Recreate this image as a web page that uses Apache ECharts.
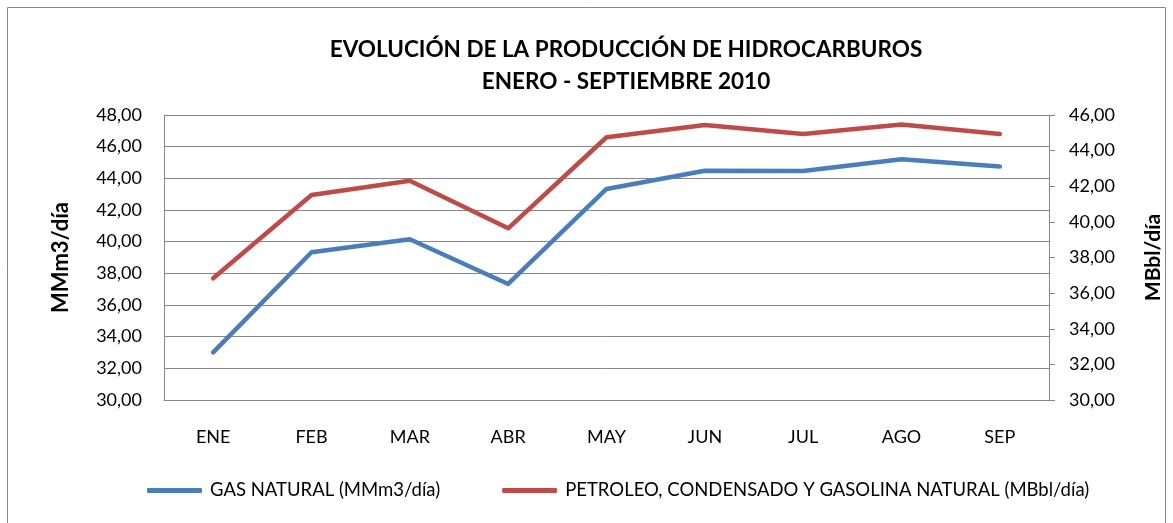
<!DOCTYPE html>
<html>
<head>
<meta charset="utf-8">
<script src="https://cdn.jsdelivr.net/npm/echarts@6/dist/echarts.min.js"></script>
<style>
  html, body { margin: 0; padding: 0; background: #fff; }
  #chart { width: 1173px; height: 523px; }
</style>
</head>
<body>
<div id="chart"></div>
<script>
// meses
const categories = ['ENE', 'FEB', 'MAR', 'ABR', 'MAY', 'JUN', 'JUL', 'AGO', 'SEP'];
// MMm3/día (eje izquierdo)
const gasNatural = [33.01, 39.33, 40.15, 37.33, 43.33, 44.48, 44.46, 45.21, 44.74];
// MBbl/día (eje derecho)
const petroleo = [36.83, 41.51, 42.31, 39.64, 44.75, 45.44, 44.93, 45.47, 44.93];

const gasName = 'GAS NATURAL (MMm3/día)';
const petName = 'PETROLEO, CONDENSADO Y GASOLINA NATURAL (MBbl/día)';

const fontFam = 'Lato, "Open Sans", sans-serif';
const gridColor = '#878787';

const chart = echarts.init(document.getElementById('chart'), null, { renderer: 'canvas' });

const fmt = v => v.toFixed(2).replace('.', ',');

let option = {
  animation: false,
  textStyle: { fontFamily: fontFam },
  title: {
    text: 'EVOLUCIÓN DE LA PRODUCCIÓN DE HIDROCARBUROS\nENERO - SEPTIEMBRE 2010',
    left: 621,
    top: 29,
    textAlign: 'center',
    textStyle: {
      fontFamily: fontFam,
      fontSize: 22.5,
      fontWeight: 'bold',
      color: '#000',
      lineHeight: 32
    }
  },
  graphic: [
    {
      type: 'rect',
      shape: { x: 7.5, y: 7.5, width: 1158, height: 530 },
      style: { fill: 'none', stroke: gridColor, lineWidth: 1 },
      silent: true
    }
  ],
  legend: {
    left: 142,
    top: 476,
    itemGap: 62,
    itemWidth: 55,
    itemHeight: 5,
    textStyle: { fontSize: 18.5, color: '#000', fontFamily: fontFam, padding: [0, 0, 0, 3] },
    data: [
      { name: gasName, icon: 'roundRect' },
      { name: petName, icon: 'roundRect' }
    ]
  },
  grid: {
    left: 164,
    right: 124,
    top: 115,
    bottom: 123
  },
  xAxis: {
    type: 'category',
    data: categories,
    boundaryGap: true,
    axisLine: { show: true, lineStyle: { color: gridColor, width: 1 } },
    axisTick: { show: false },
    axisLabel: { color: '#000', fontSize: 18, margin: 28 },
    splitLine: { show: false }
  },
  yAxis: [
    {
      type: 'value',
      name: 'MMm3/día',
      nameLocation: 'middle',
      nameGap: 92,
      nameRotate: 90,
      nameTextStyle: { fontSize: 22, fontWeight: 'bold', color: '#000' },
      min: 30,
      max: 48,
      interval: 2,
      axisLine: { show: true, lineStyle: { color: gridColor, width: 1 } },
      axisTick: { show: false },
      axisLabel: { color: '#000', fontSize: 18, margin: 22, formatter: fmt },
      splitLine: { show: true, lineStyle: { color: gridColor, width: 1 } }
    },
    {
      type: 'value',
      name: 'MBbl/día',
      nameLocation: 'middle',
      nameGap: 94,
      nameRotate: 90,
      nameTextStyle: { fontSize: 21, fontWeight: 'bold', color: '#000' },
      min: 30,
      max: 46,
      interval: 2,
      position: 'right',
      axisLine: { show: true, lineStyle: { color: gridColor, width: 1 } },
      axisTick: { show: true, inside: false, length: 6, lineStyle: { color: gridColor } },
      axisLabel: { color: '#000', fontSize: 18, margin: 20, formatter: fmt },
      splitLine: { show: false }
    }
  ],
  series: [
    {
      name: gasName,
      type: 'line',
      yAxisIndex: 0,
      data: gasNatural,
      symbol: 'none',
      itemStyle: { color: '#4A7EBB' },
      lineStyle: { color: '#4A7EBB', width: 4.5, cap: 'round', join: 'round' },
      z: 3
    },
    {
      name: petName,
      type: 'line',
      yAxisIndex: 1,
      data: petroleo,
      symbol: 'none',
      itemStyle: { color: '#BE4B48' },
      lineStyle: { color: '#BE4B48', width: 4.5, cap: 'round', join: 'round' },
      z: 3
    }
  ]
};

chart.setOption(option);
</script>
</body>
</html>
